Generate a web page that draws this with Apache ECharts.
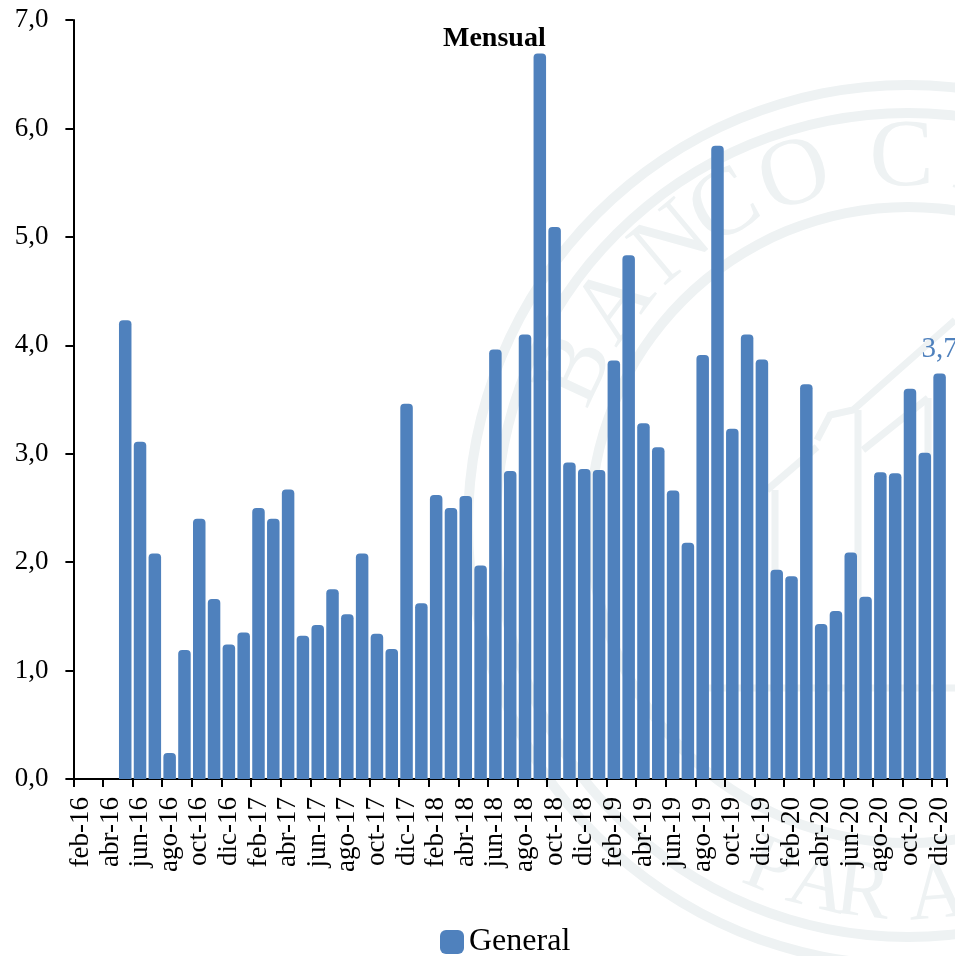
<!DOCTYPE html>
<html>
<head>
<meta charset="utf-8">
<style>
html, body { margin: 0; padding: 0; background: #fff; }
#chart { width: 955px; height: 956px; }
</style>
<script src="https://cdn.jsdelivr.net/npm/echarts@6/dist/echarts.min.js"></script>
</head>
<body>
<div id="chart"></div>
<script>
var months = [
    'feb-16', 'mar-16', 'abr-16', 'may-16', 'jun-16', 'jul-16', 'ago-16', 'sep-16', 'oct-16', 'nov-16', 'dic-16',
    'ene-17', 'feb-17', 'mar-17', 'abr-17', 'may-17', 'jun-17', 'jul-17', 'ago-17', 'sep-17', 'oct-17', 'nov-17', 'dic-17',
    'ene-18', 'feb-18', 'mar-18', 'abr-18', 'may-18', 'jun-18', 'jul-18', 'ago-18', 'sep-18', 'oct-18', 'nov-18', 'dic-18',
    'ene-19', 'feb-19', 'mar-19', 'abr-19', 'may-19', 'jun-19', 'jul-19', 'ago-19', 'sep-19', 'oct-19', 'nov-19', 'dic-19',
    'ene-20', 'feb-20', 'mar-20', 'abr-20', 'may-20', 'jun-20', 'jul-20', 'ago-20', 'sep-20', 'oct-20', 'nov-20', 'dic-20'
];
var general = [
    null, null, null, 4.23, 3.11, 2.08, 0.24, 1.19, 2.40, 1.66, 1.24,
    1.35, 2.50, 2.40, 2.67, 1.32, 1.42, 1.75, 1.52, 2.08, 1.34, 1.20, 3.46,
    1.62, 2.62, 2.50, 2.61, 1.97, 3.96, 2.84, 4.10, 6.69, 5.09, 2.92, 2.86,
    2.85, 3.86, 4.83, 3.28, 3.06, 2.66, 2.18, 3.91, 5.84, 3.23, 4.10, 3.87,
    1.93, 1.87, 3.64, 1.43, 1.55, 2.09, 1.68, 2.83, 2.82, 3.60, 3.01, 3.74
];
var yMax = 7;
var seriesName = 'General';
var chartTitle = 'Mensual';

var blue = '#4f81bd';
var seriFont = '"Liberation Serif", serif';

// sello de fondo (marca de agua)
var sealColor = '#eef2f3';
var sealX = 908, sealY = 525;
var sealRings = [[435, 445], [407, 417], [313, 323]];
var topLetters = [['B', -65], ['A', -53], ['N', -40], ['C', -30], ['O', -18], ['C', -1], ['E', 12]];
var bottomLetters = [['P', 22], ['A', 14], ['R', 7], ['A', -4.6]];
var sealLines = [
    [[817, 440], [830, 415], [853, 410], [955, 320]],
    [[863, 450], [928, 398]],
    [[767, 490], [817, 447]],
    [[858, 410], [858, 779]],
    [[775, 490], [775, 779]],
    [[928, 398], [928, 779]],
    [[700, 688], [955, 688]]
];

function sealElements() {
    var els = [];
    sealRings.forEach(function (r) {
        els.push({
            type: 'ring', z: -10,
            shape: {cx: sealX, cy: sealY, r0: r[0], r: r[1]},
            style: {fill: sealColor}
        });
    });
    topLetters.forEach(function (l) {
        var a = l[1] * Math.PI / 180;
        els.push({
            type: 'text', z: -10,
            x: sealX + 365 * Math.sin(a), y: sealY - 365 * Math.cos(a), rotation: -a,
            style: {text: l[0], fill: sealColor, font: '96px ' + seriFont, align: 'center', verticalAlign: 'middle'}
        });
    });
    bottomLetters.forEach(function (l) {
        var a = l[1] * Math.PI / 180;
        els.push({
            type: 'text', z: -10,
            x: sealX - 372 * Math.sin(a), y: sealY + 372 * Math.cos(a), rotation: -a,
            style: {text: l[0], fill: sealColor, font: '82px ' + seriFont, align: 'center', verticalAlign: 'middle'}
        });
    });
    sealLines.forEach(function (pts) {
        els.push({
            type: 'polyline', z: -10,
            shape: {points: pts},
            style: {stroke: sealColor, lineWidth: 7, fill: null}
        });
    });
    return els;
}

function comma(v) {
    return v.toFixed(1).replace('.', ',');
}

var barData = general.map(function (v, i) {
    if (i === general.length - 1) {
        return {
            value: v,
            label: {
                show: true,
                position: 'top',
                distance: 10,
                formatter: function (p) { return comma(p.value); },
                fontFamily: seriFont,
                fontSize: 29,
                color: blue
            }
        };
    }
    return v;
});

var chart = echarts.init(document.getElementById('chart'), null, {renderer: 'canvas'});
chart.setOption({
    animation: false,
    backgroundColor: '#fff',
    title: {
        text: chartTitle,
        left: 443,
        top: 25,
        padding: 0,
        textStyle: {fontFamily: seriFont, fontSize: 28, fontWeight: 'bold', color: '#000'}
    },
    legend: {
        data: [seriesName],
        left: 440,
        top: 926,
        padding: 0,
        itemWidth: 24,
        itemHeight: 24,
        icon: 'roundRect',
        textStyle: {fontFamily: seriFont, fontSize: 32, color: '#000'}
    },
    grid: {left: 73.4, right: 8, top: 20, bottom: 177, containLabel: false},
    xAxis: {
        type: 'category',
        data: months,
        boundaryGap: true,
        axisLine: {lineStyle: {color: '#000', width: 2}},
        axisTick: {show: true, interval: 1, alignWithLabel: false, length: 8, lineStyle: {color: '#000', width: 2}},
        axisLabel: {
            interval: 1,
            rotate: 90,
            margin: 18,
            fontFamily: seriFont,
            fontSize: 27,
            color: '#000'
        }
    },
    yAxis: {
        type: 'value',
        min: 0,
        max: yMax,
        interval: 1,
        splitLine: {show: false},
        axisLine: {show: true, lineStyle: {color: '#000', width: 2}},
        axisTick: {show: true, length: 8, lineStyle: {color: '#000', width: 2}},
        axisLabel: {
            margin: 25,
            padding: [6, 0, 0, 0],
            fontFamily: seriFont,
            fontSize: 27,
            color: '#000',
            formatter: function (v) { return comma(v); }
        }
    },
    series: [{
        name: seriesName,
        type: 'bar',
        barWidth: 12.5,
        data: barData,
        itemStyle: {color: blue, borderRadius: [4, 4, 0, 0]}
    }],
    graphic: {elements: sealElements()}
});
</script>
</body>
</html>
